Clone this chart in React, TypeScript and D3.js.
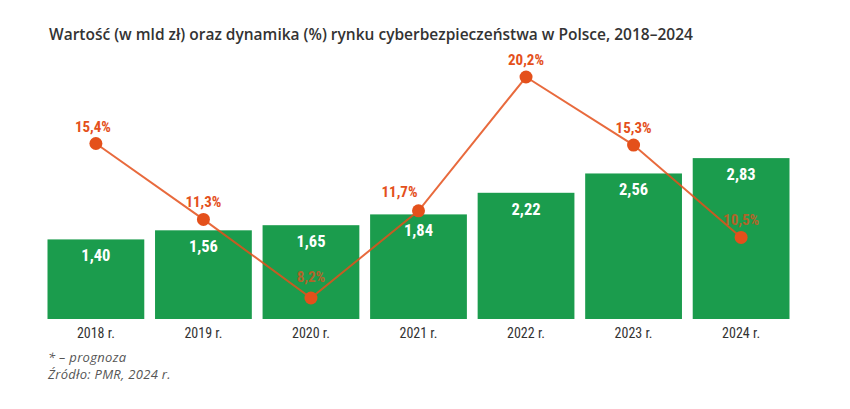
import React from "react";
import * as d3 from "d3";

const years = ["2018 r.", "2019 r.", "2020 r.", "2021 r.", "2022 r.", "2023 r.", "2024 r."];
const marketValue = [1.4, 1.56, 1.65, 1.84, 2.22, 2.56, 2.83];
const marketValueLabels = ["1,40", "1,56", "1,65", "1,84", "2,22", "2,56", "2,83"];
const growth = [15.4, 11.3, 8.2, 11.7, 20.2, 15.3, 10.5];
const growthLabels = ["15,4%", "11,3%", "8,2%", "11,7%", "20,2%", "15,3%", "10,5%"];

const title = "Wartość (w mld zł) oraz dynamika (%) rynku cyberbezpieczeństwa w Polsce, 2018–2024";
const note1 = "* – prognoza";
const note2 = "Źródło: PMR, 2024 r.";

const W = 850;
const H = 409;
const GREEN = "#1b9c4d";
const ORANGE = "#e4501b";
const COND = "'Roboto Condensed', 'Liberation Sans Narrow', 'DejaVu Sans Condensed', 'Arial Narrow', Roboto, sans-serif";
const SANS = "'Open Sans', 'Noto Sans', sans-serif";

export default function App() {
  const x = d3.scaleBand<string>().domain(years).range([47.5, 789.5]).paddingInner(0.1).paddingOuter(0);
  const y = d3.scaleLinear().domain([0, 3]).range([319, 148.45]);
  const yg = d3.scaleLog().domain([8.2, 20.2]).range([298, 77]);
  const bw = x.bandwidth();
  const cx = (i: number) => (x(years[i]) as number) + bw / 2;

  const line = d3
    .line<number>()
    .x((_, i) => cx(i))
    .y((d) => yg(d));

  // label placement tweaks (left of the point where the line rises steeply)
  const labelDx = (i: number) => (i === 3 ? -19 : i === 0 ? -3 : 0);
  const labelDy = (i: number) => (i === 2 ? -16 : i === 3 ? -14 : -12);

  return (
    <svg
      width={W}
      height={H}
      viewBox={`0 0 ${W} ${H}`}
      style={{ position: "absolute", left: 0, top: 0, background: "#fff", display: "block" }}
    >
      <rect x={0} y={0} width={W} height={H} fill="#fff" />
      <text x={49} y={40} fontFamily={SANS} fontWeight={600} fontSize={15.5} fill="#333">
        {title}
      </text>

      {marketValue.map((v, i) => (
        <rect key={"b" + i} x={x(years[i])} y={y(v)} width={bw} height={y(0) - y(v)} fill={GREEN} />
      ))}
      {marketValue.map((v, i) => (
        <text
          key={"bl" + i}
          x={cx(i)}
          y={y(v) + 22}
          textAnchor="middle"
          fontFamily={COND}
          fontStretch="condensed"
          fontWeight={700}
          fontSize={16.5}
          fill="#fff"
        >
          {marketValueLabels[i]}
        </text>
      ))}

      {years.map((yr, i) => (
        <text
          key={"x" + i}
          x={cx(i)}
          y={338}
          textAnchor="middle"
          fontFamily={COND}
          fontStretch="condensed"
          fontSize={14}
          fill="#333"
        >
          {yr}
        </text>
      ))}

      <path d={line(growth) || ""} fill="none" stroke={ORANGE} strokeWidth={2} strokeOpacity={0.85} />
      {growth.map((g, i) => (
        <circle key={"c" + i} cx={cx(i)} cy={yg(g)} r={6.5} fill={ORANGE} />
      ))}
      {growth.map((g, i) => (
        <text
          key={"gl" + i}
          x={cx(i) + labelDx(i)}
          y={yg(g) + labelDy(i)}
          textAnchor="middle"
          fontFamily={COND}
          fontStretch="condensed"
          fontWeight={700}
          fontSize={15}
          fill={ORANGE}
          fillOpacity={yg(g) > y(marketValue[i]) ? 0.75 : 1}
        >
          {growthLabels[i]}
        </text>
      ))}

      <text x={48} y={362} fontFamily={SANS} fontStyle="italic" fontSize={13} letterSpacing={0.3} fill="#555">
        {note1}
      </text>
      <text x={48} y={379} fontFamily={SANS} fontStyle="italic" fontSize={13} letterSpacing={0.3} fill="#555">
        {note2}
      </text>
    </svg>
  );
}
